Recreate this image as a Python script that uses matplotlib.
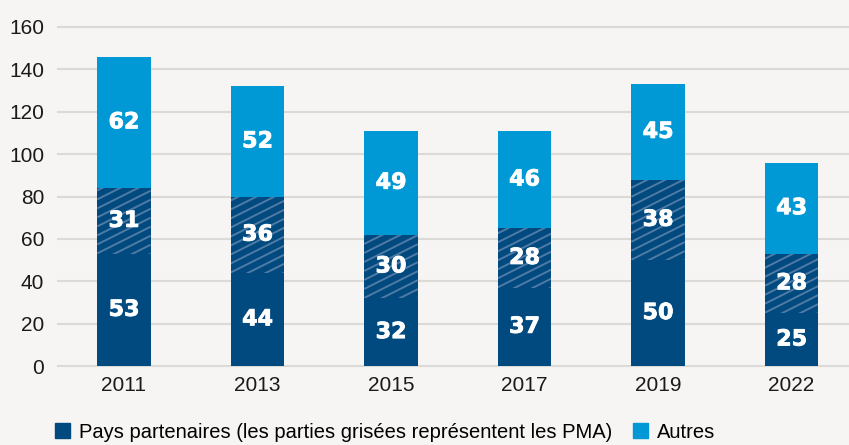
import matplotlib.pyplot as plt
import matplotlib.patches as mpatches
import matplotlib.patheffects as pe
from matplotlib.collections import LineCollection
import numpy as np

years = ["2011", "2013", "2015", "2017", "2019", "2022"]
partenaires = [53, 44, 32, 37, 50, 25]
pma = [31, 36, 30, 28, 38, 28]
autres = [62, 52, 49, 46, 45, 43]

dark = "#004a80"
light = "#0099d6"
hatch_col = "#4f7ba5"
bg = "#f6f5f3"

plt.rcParams['font.family'] = ['Liberation Sans', 'DejaVu Sans']

fig = plt.figure(figsize=(8.49, 4.45), dpi=100, facecolor=bg)
ax = fig.add_axes([58 / 849, 79 / 445, 791 / 849, 339 / 445])
ax.set_facecolor(bg)
ax.set_ylim(0, 160)
ax.set_xlim(-0.494, 5.43)

x = np.arange(len(years))
w = 0.40
ax.bar(x, partenaires, w, color=dark, linewidth=0, zorder=3)
b2 = np.array(partenaires)
hb = ax.bar(x, pma, w, bottom=b2, color=dark, linewidth=0, zorder=3)
b3 = b2 + np.array(pma)
ax.bar(x, autres, w, bottom=b3, color=light, linewidth=0, zorder=3)

# hachures obliques (pente 0.5 en pixels) sur la partie PMA
o = ax.transData.transform((0, 0))
sx, sy = ax.transData.transform((1, 1)) - o
dslope = 0.5 * sx / sy
step = 9.0 / sy
for p in hb.patches:
    x0, y0 = p.get_x(), p.get_y()
    x1, y1 = x0 + p.get_width(), y0 + p.get_height()
    segs = []
    c = y0 - dslope * (x1 - x0)
    while c < y1:
        segs.append([(x0, c), (x1, c + dslope * (x1 - x0))])
        c += step
    lc = LineCollection(segs, colors=hatch_col, linewidths=1.4, zorder=3.5)
    ax.add_collection(lc)
    lc.set_clip_path(p)

lab = dict(ha="center", va="center", color="white", fontsize=16,
           fontweight="bold", family="DejaVu Sans", zorder=4,
           path_effects=[pe.withStroke(linewidth=0.6, foreground="white")])
for i in range(len(years)):
    ax.text(x[i], partenaires[i] / 2, str(partenaires[i]), **lab)
    ax.text(x[i], b2[i] + pma[i] / 2, str(pma[i]), **lab)
    ax.text(x[i], b3[i] + autres[i] / 2, str(autres[i]), **lab)

ax.set_yticks(range(0, 161, 20))
ax.set_xticks(x)
ax.set_xticklabels(years)
ax.grid(axis="y", color="#dcdad6", linewidth=1.5, zorder=0)
ax.set_axisbelow(True)
for s in ax.spines.values():
    s.set_visible(False)
ax.tick_params(axis="both", length=0, labelsize=15, colors="#1a1a1a")
ax.tick_params(axis="y", pad=10)
ax.tick_params(axis="x", pad=7)
for line in ax.get_ygridlines():
    line.set_clip_on(False)

handles = [mpatches.Patch(color=dark, label="Pays partenaires (les parties grisées représentent les PMA)"),
           mpatches.Patch(color=light, label="Autres")]
fig.legend(handles=handles, loc="center left", bbox_to_anchor=(55 / 849, 1 - 432 / 445),
           ncol=2, frameon=False, fontsize=14.5, handlelength=0.75, handleheight=0.75,
           handletextpad=0.45, columnspacing=1.0, borderaxespad=0, borderpad=0)

fig.savefig("out.png", dpi=100, facecolor=bg)
